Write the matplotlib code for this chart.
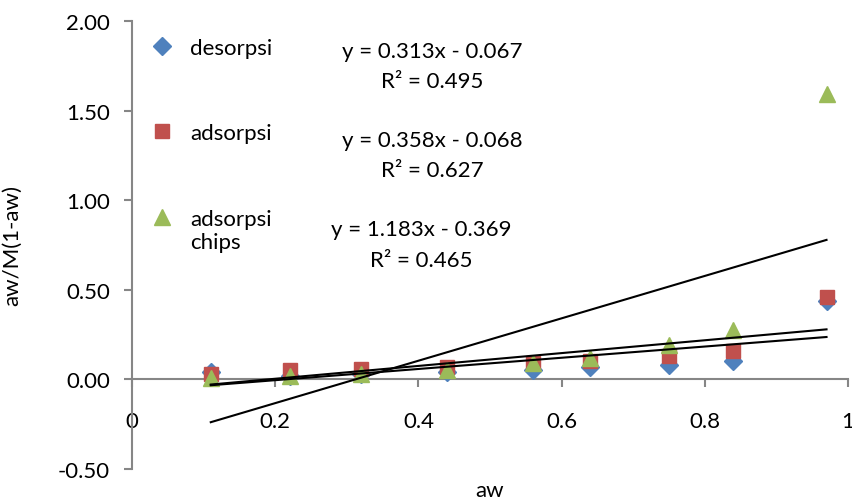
import matplotlib
matplotlib.use("Agg")
import matplotlib.pyplot as plt
import numpy as np

plt.rcParams['font.family'] = ['Lato', 'DejaVu Sans']

# water activity values
aw = [0.11, 0.22, 0.32, 0.44, 0.56, 0.64, 0.75, 0.84, 0.97]

# aw/M(1-aw) for each series
desorpsi = [0.04, 0.02, 0.03, 0.04, 0.055, 0.07, 0.08, 0.105, 0.44]
adsorpsi = [0.03, 0.05, 0.06, 0.07, 0.09, 0.10, 0.13, 0.16, 0.46]
chips = [0.01, 0.02, 0.03, 0.05, 0.09, 0.12, 0.19, 0.275, 1.59]

# linear trendline coefficients (slope, intercept) and R^2
slopes = [0.313, 0.358, 1.183]
intercepts = [-0.067, -0.068, -0.369]
r2 = [0.495, 0.627, 0.465]

x_ticks = [0, 0.2, 0.4, 0.6, 0.8, 1]
x_tick_labels = ["0", "0.2", "0.4", "0.6", "0.8", "1"]
y_ticks = [-0.5, 0, 0.5, 1.0, 1.5, 2.0]

FS = 16

fig = plt.figure(figsize=(8.53, 5.02), dpi=100)
ax = fig.add_axes([132 / 853, 32 / 502, 716 / 853, 448 / 502])

ax.plot(aw, desorpsi, 'D', color='#4F81BD', ms=9, label='desorpsi', zorder=3)
ax.plot(aw, adsorpsi, 's', color='#C0504D', ms=9.5, label='adsorpsi', zorder=3)
ax.plot(aw, chips, '^', color='#9BBB59', ms=12, label='adsorpsi\nchips', zorder=3)

# trendlines
xs = np.array([aw[0], aw[-1]])
for m, b in zip(slopes, intercepts):
    ax.plot(xs, m * xs + b, color='black', lw=1.5, zorder=4)

ax.set_xlim(0, 1)
ax.set_ylim(-0.5, 2.0)
ax.set_xticks(x_ticks)
ax.set_xticklabels(x_tick_labels)
ax.set_yticks(y_ticks)
ax.set_yticklabels([f"{v:.2f}" for v in y_ticks])

for s in ['top', 'right']:
    ax.spines[s].set_visible(False)
ax.spines['bottom'].set_position(('data', 0))
for s in ['left', 'bottom']:
    ax.spines[s].set_color('#868686')
    ax.spines[s].set_linewidth(1.5)
ax.tick_params(axis='both', colors='#868686', labelcolor='black', labelsize=FS,
               width=1.5, length=6)
ax.tick_params(axis='x', pad=17)
ax.tick_params(axis='y', pad=10)

ax.set_ylabel("aw/M(1-aw)", fontsize=FS)
ax.yaxis.set_label_coords(-0.154, 0.5)
ax.text(0.5, -0.047, "aw", transform=ax.transAxes, ha='center', va='center',
        fontsize=FS)

# equations
eq_pos = [(0.419, 0.933, 0.866), (0.419, 0.735, 0.668), (0.404, 0.535, 0.467)]
for (tx, ty1, ty2), m, b, r in zip(eq_pos, slopes, intercepts, r2):
    ax.text(tx, ty1, f"y = {m:.3f}x - {abs(b):.3f}", transform=ax.transAxes,
            ha='center', va='center', fontsize=FS)
    ax.text(tx, ty2, f"R² = {r:.3f}", transform=ax.transAxes,
            ha='center', va='center', fontsize=FS)

leg = ax.legend(loc='upper left', bbox_to_anchor=(0.0, 0.997), frameon=False,
                fontsize=FS, labelspacing=2.95, handletextpad=0.6,
                borderaxespad=0.4, handlelength=1.3, borderpad=0.3)
# put markers next to the first line of each label, as in the reference
for col in leg._legend_handle_box.get_children():
    for row in col.get_children():
        row.align = 'top'

fig.savefig("out.png", dpi=100)
